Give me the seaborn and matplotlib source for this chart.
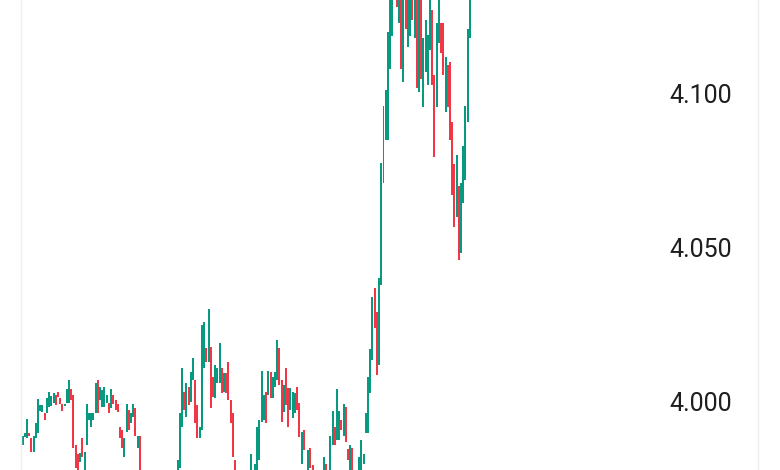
import numpy as np
import pandas as pd
import matplotlib
matplotlib.use("Agg")
import matplotlib.pyplot as plt
import seaborn as sns

# candle opens / closes (one value per candle, left to right)
open_prices = [
    3.9859, 3.9885, 3.9882, 3.9898, 3.9882, 3.9839, 3.9882, 3.9898, 3.9969, 3.9966,
    3.9963, 3.9963, 3.9982, 3.9986, 3.9995, 4.0021, 4.0031, 4.0012, 3.9992, 3.9986,
    3.9995, 3.9995, 4.0041, 4.0021, 3.9859, 3.9830, 3.9804, 3.9882, 3.9760, 3.9859,
    3.9940, 3.9917, 3.9940, 3.9963, 4.0070, 4.0005, 3.9982, 3.9982, 3.9995, 3.9995,
    3.9979, 4.0021, 4.0005, 3.9992, 3.9917, 3.9908, 3.9820, 3.9901, 3.9973, 3.9930,
    3.9950, 3.9979, 3.9849, 3.9891,
    3.9770, 3.9720, 3.9750, 3.9715, 3.9685, 3.9710, 3.9682, 3.9695, 3.9722, 3.9700,
    3.9730, 3.9755, 3.9728, 3.9762, 3.9742, 3.9760,
    3.9761, 3.9787, 3.9917, 4.0031, 3.9950, 4.0047, 3.9999, 4.0070, 4.0070, 3.9989,
    3.9882, 3.9908, 4.0109, 4.0174, 4.0129, 4.0177, 4.0080, 4.0012, 4.0060, 4.0060,
    4.0109, 4.0031, 4.0093, 4.0129, 4.0005, 3.9963, 3.9810, 3.9770,
    3.9700, 3.9735, 3.9702, 3.9735, 3.9765,
    3.9760, 3.9770, 3.9765, 3.9760, 3.9810, 3.9934, 3.9940, 4.0031, 4.0021, 4.0096,
    4.0012, 4.0047, 4.0070, 4.0174, 4.0070, 3.9966, 4.0109, 4.0044, 3.9973, 3.9947,
    3.9963, 4.0047, 3.9995, 3.9800, 3.9908, 3.9775, 3.9760, 3.9849, 3.9794, 3.9740,
    3.9768, 3.9742, 3.9745,
    3.9760, 3.9800, 3.9770, 3.9760, 3.9859, 3.9917, 3.9875, 3.9875, 3.9940, 3.9888,
    3.9982, 3.9846, 3.9760, 3.9849, 3.9770, 3.9738, 3.9760, 3.9778, 3.9800, 3.9898,
    3.9898, 4.0028, 4.0135, 4.0369, 4.0291, 4.0119,
    4.0379, 4.0710, 4.0850, 4.0850, 4.1081, 4.1188, 4.1320, 4.1340, 4.1230, 4.1340,
    4.1039, 4.1340, 4.1152, 4.1188, 4.1340, 4.1182, 4.1340, 4.1006, 4.1340, 4.0957,
    4.1071, 4.1029, 4.1143, 4.1273, 4.1061, 4.0957, 4.1165, 4.1230, 4.1230, 4.0941,
    4.1094, 4.1104, 4.0909, 4.0772, 4.0600, 4.0700, 4.0483, 4.0646, 4.0720, 4.0909,
    4.1182,
]
close_prices = [
    3.9891, 3.9898, 3.9943, 3.9888, 3.9839, 3.9888, 3.9930, 4.0008, 3.9989, 3.9989,
    3.9940, 4.0012, 4.0031, 4.0018, 4.0028, 3.9989, 4.0015, 3.9992, 3.9969, 3.9992,
    4.0041, 4.0070, 4.0005, 3.9849, 3.9787, 3.9760, 3.9833, 3.9820, 3.9839, 3.9992,
    3.9963, 3.9963, 3.9963, 4.0060, 3.9963, 4.0047, 4.0038, 4.0047, 4.0021, 3.9963,
    4.0041, 3.9992, 3.9973, 3.9966, 3.9882, 3.9849, 3.9882, 3.9992, 3.9908, 3.9963,
    3.9992, 3.9888, 3.9891, 3.9750,
    3.9730, 3.9745, 3.9710, 3.9690, 3.9712, 3.9680, 3.9700, 3.9725, 3.9700, 3.9735,
    3.9755, 3.9730, 3.9760, 3.9740, 3.9765, 3.9770,
    3.9810, 3.9963, 4.0109, 3.9973, 4.0060, 3.9989, 4.0096, 4.0142, 3.9930, 3.9882,
    3.9917, 4.0249, 4.0259, 4.0129, 4.0301, 3.9979, 4.0015, 4.0119, 4.0109, 4.0190,
    4.0028, 4.0093, 4.0028, 4.0005, 3.9930, 3.9820, 3.9745, 3.9715,
    3.9730, 3.9700, 3.9740, 3.9760, 3.9740,
    3.9830, 3.9745, 3.9800, 3.9917, 3.9940, 4.0099, 4.0021, 3.9930, 4.0099, 4.0012,
    4.0080, 4.0096, 4.0200, 4.0054, 3.9934, 4.0054, 3.9989, 3.9917, 4.0044, 4.0031,
    4.0028, 3.9973, 3.9885, 3.9901, 3.9843, 3.9745, 3.9843, 3.9784, 3.9750, 3.9765,
    3.9745, 3.9772, 3.9770,
    3.9820, 3.9760, 3.9740, 3.9888, 3.9969, 3.9859, 4.0041, 3.9969, 3.9908, 3.9992,
    3.9869, 3.9810, 3.9859, 3.9760, 3.9740, 3.9768, 3.9820, 3.9878, 3.9830, 3.9963,
    4.0080, 4.0171, 4.0340, 4.0239, 4.0086, 4.0402,
    4.0775, 4.0961, 4.1013, 4.1201, 4.1340, 4.1370, 4.1380, 4.1282, 4.1350, 4.1081,
    4.1340, 4.1211, 4.1340, 4.1340, 4.1240, 4.1340, 4.1019, 4.1340, 4.1048, 4.1182,
    4.1240, 4.1191, 4.1340, 4.1029, 4.0795, 4.1230, 4.1340, 4.1133, 4.1061, 4.1120,
    4.0957, 4.0850, 4.0671, 4.0567, 4.0801, 4.0460, 4.0710, 4.0831, 4.0961, 4.1211,
    4.1340,
]
tick_values = [4.000, 4.050, 4.100]
tick_labels = ["4.000", "4.050", "4.100"]

UP = "#089981"
DOWN = "#f23645"

sns.set_theme(style="white")
plt.rcParams['font.family'] = ['Roboto', 'DejaVu Sans']

df = pd.DataFrame({'open': open_prices, 'close': close_prices})
df['idx'] = np.arange(len(df))
df['up'] = df['close'] >= df['open']

fig = plt.figure(figsize=(7.8, 4.7), dpi=100)
ax = fig.add_axes([21 / 780, 0, 737 / 780, 1])

ax.bar(df['idx'], df['close'] - df['open'], bottom=df['open'], width=0.9,
       color=np.where(df['up'], UP, DOWN), linewidth=0)

ax.set_xlim(-0.68, 332.1)
ax.set_ylim(3.9779, 4.1305)
ax.set_xticks([])
ax.set_yticks(tick_values)
ax.set_yticklabels(tick_labels)
ax.yaxis.tick_right()
ax.tick_params(axis='y', length=0, pad=-18.7, labelsize=18, labelcolor='#1e1e1e')
for lab in ax.get_yticklabels():
    lab.set_horizontalalignment('right')

for side in ['top', 'bottom']:
    ax.spines[side].set_visible(False)
for side in ['left', 'right']:
    ax.spines[side].set_color('#eeeeee')
    ax.spines[side].set_linewidth(1)

fig.savefig('out.png', dpi=100)
